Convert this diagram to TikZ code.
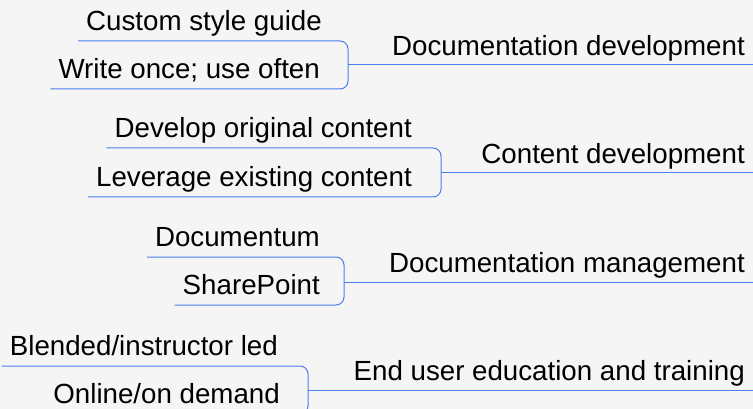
\documentclass[tikz,border=0pt]{standalone}
\usepackage{fontspec}
\setmainfont{Liberation Sans}
\definecolor{branchblue}{RGB}{74,126,238}
\definecolor{paper}{RGB}{245,245,245}
\tikzset{
  leaf/.style={anchor=south east,inner xsep=8pt,inner ysep=10pt,text depth=0pt,
    font=\fontsize{27.7}{32}\selectfont},
  topic/.style={leaf,inner ysep=9pt},
  branch/.style={draw=branchblue,line width=1pt,rounded corners=8pt}
}
\begin{document}
\begin{tikzpicture}[x=1pt,y=-1pt]
  \clip (0,0) rectangle (753,409);
  \fill[paper] (0,0) rectangle (753,409);
  % documentation development
  \coordinate (j1) at (348,65);
  \node[leaf] (style) at (330,41) {Custom style guide};
  \node[leaf] (once) at (328,89) {Write once; use often};
  \node[topic] (docdev) at (753,65) {Documentation development};
  \draw[branch] (style.south west) -- (style.south west -| j1) --
  (once.south west -| j1) -- (once.south west);
  \draw[branch] (j1) -- (docdev.south east);
  % content development
  \coordinate (j2) at (441,173);
  \node[leaf] (original) at (420,148) {Develop original content};
  \node[leaf] (existing) at (420,197) {Leverage existing content};
  \node[topic] (contdev) at (753,173) {Content development};
  \draw[branch] (original.south west) -- (original.south west -| j2) --
  (existing.south west -| j2) -- (existing.south west);
  \draw[branch] (j2) -- (contdev.south east);
  % documentation management
  \coordinate (j3) at (344,282);
  \node[leaf] (documentum) at (328,257) {Documentum};
  \node[leaf] (sharepoint) at (328,305) {SharePoint};
  \node[topic] (docman) at (753,282) {Documentation management};
  \draw[branch] (documentum.south west) -- (documentum.south west -| j3) --
  (sharepoint.south west -| j3) -- (sharepoint.south west);
  \draw[branch] (j3) -- (docman.south east);
  % end user education and training
  \coordinate (j4) at (308,390);
  \node[leaf] (blended) at (286,366) {Blended/instructor led};
  \node[leaf] (online) at (288,414) {Online/on demand};
  \node[topic] (training) at (753,390) {End user education and training};
  \draw[branch] (blended.south west) -- (blended.south west -| j4) --
  (online.south west -| j4) -- (online.south west);
  \draw[branch] (j4) -- (training.south east);
\end{tikzpicture}
\end{document}
